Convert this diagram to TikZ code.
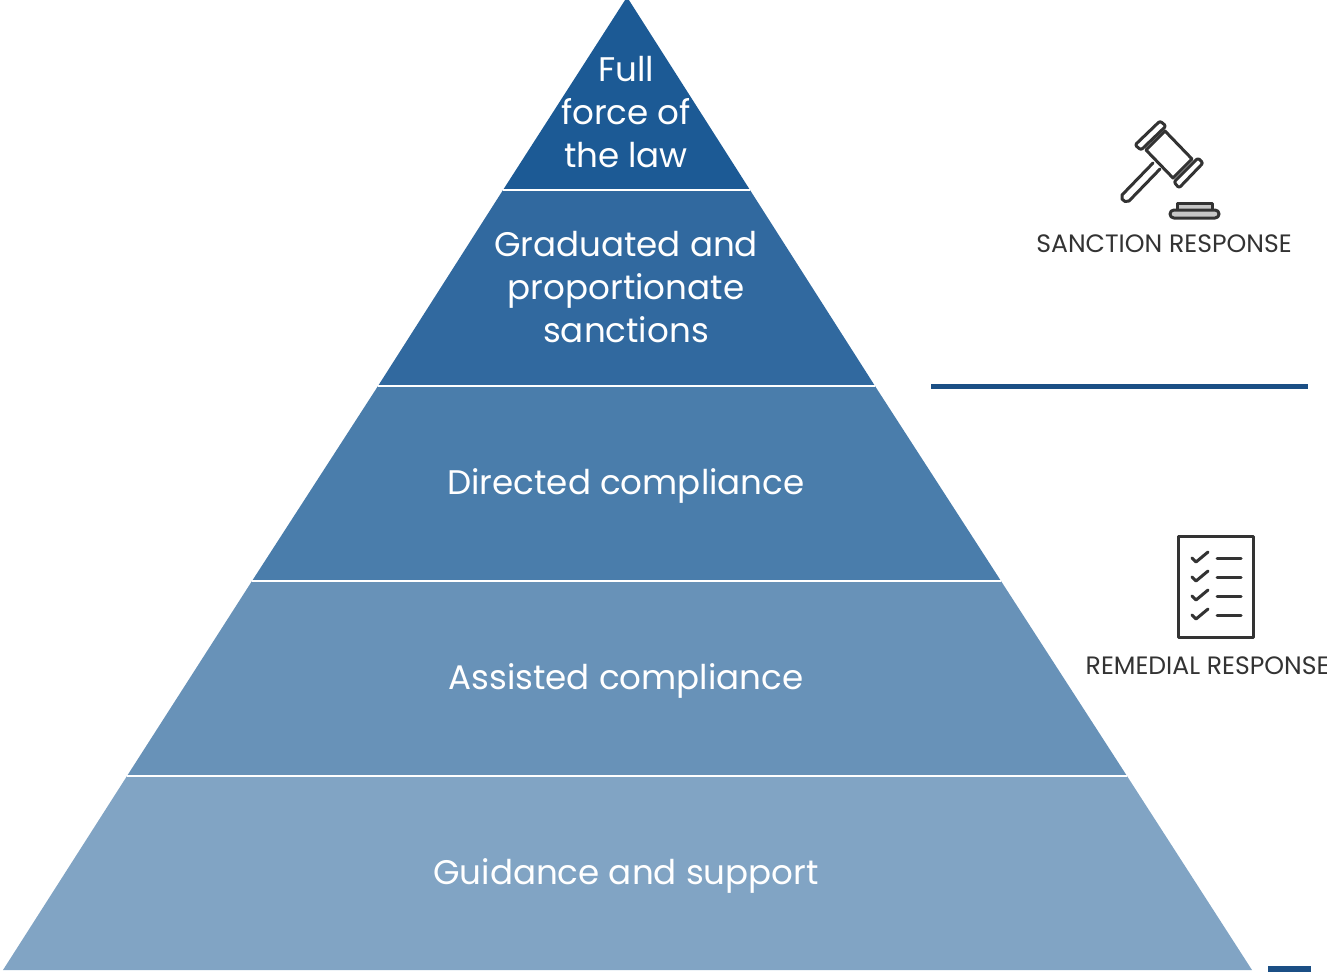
\documentclass[tikz,border=0pt]{standalone}
\usepackage{fontspec}
\setmainfont{Poppins}
\definecolor{levelone}{HTML}{1C5A95}
\definecolor{leveltwo}{HTML}{31699F}
\definecolor{levelthree}{HTML}{4A7DAB}
\definecolor{levelfour}{HTML}{6892B8}
\definecolor{levelfive}{HTML}{81A4C4}
\definecolor{rulecol}{HTML}{1B4F85}
\definecolor{iconcol}{HTML}{333333}
\tikzset{
  level/.style={white,font=\fontsize{9.7}{12.2}\selectfont,align=center,inner sep=0pt},
  response/.style={text=iconcol,font=\fontsize{7.15}{8}\selectfont,inner sep=0pt},
  icon/.style={draw=iconcol,line width=0.85pt,line join=round,line cap=round},
  divider/.style={draw=white,line width=0.7pt},
}
\begin{document}
\begin{tikzpicture}[x=0.01cm,y=-0.01cm]
  \useasboundingbox (0,0) rectangle (1327,972);
  \clip (0,0) rectangle (1327,972);
  % pyramid levels
  \fill[levelone] (627,-3) -- (750,190) -- (503,190) -- cycle;
  \fill[leveltwo] (750,190) -- (875,386) -- (378,386) -- (503,190) -- cycle;
  \fill[levelthree] (875,386) -- (1001,581) -- (252,581) -- (378,386) -- cycle;
  \fill[levelfour] (1001,581) -- (1127,776) -- (127,776) -- (252,581) -- cycle;
  \fill[levelfive] (1127,776) -- (1252,970) -- (3,970) -- (127,776) -- cycle;
  % dividers
  \draw[divider] (503,190) -- (750,190);
  \draw[divider] (378,386) -- (875,386);
  \draw[divider] (252,581) -- (1001,581);
  \draw[divider] (127,776) -- (1127,776);
  % level labels
  \node[level] (fullforce) at (626,112) {Full\\force of\\the law};
  \node[level] (graduated) at (626,287) {Graduated and\\proportionate\\sanctions};
  \node[level] (directed) at (626,486) {Directed compliance};
  \node[level] (assisted) at (626,681) {Assisted compliance};
  \node[level] (guidance) at (626,876) {Guidance and support};
  % rules on the right
  \fill[rulecol] (931,384) rectangle (1308,389);
  \fill[rulecol] (1268,966) rectangle (1311,972);
  % gavel
  \draw[icon,rounded corners=0.6pt,fill=white] (1135,145) -- (1160,121) -- (1166,126) -- (1141,150) -- cycle;
  \draw[icon,rounded corners=0.6pt,fill=white] (1174,182) -- (1198,158) -- (1203,163) -- (1179,188) -- cycle;
  \draw[icon] (1146,150) -- (1165,131) -- (1192,159) -- (1173,178) -- cycle;
  \draw[icon] (1153,163) -- (1122,195) -- (1122,199) -- (1125,201.5) -- (1129,201) -- (1160,169);
  \draw[icon,fill=black!22] (1177,210) -- (1177,203) -- (1212,203) -- (1212,210);
  \draw[icon,fill=black!22,rounded corners=1.1pt] (1170,210) rectangle (1219,218);
  \node[response] (sanction) at (1164,244) {SANCTION RESPONSE};
  % checklist
  \draw[icon] (1178,536) rectangle (1253,637);
  \draw[icon] (1192,558) -- (1196,562) -- (1208,552);
  \draw[icon] (1192,577) -- (1196,581) -- (1208,571);
  \draw[icon] (1192,596) -- (1196,600) -- (1208,590);
  \draw[icon] (1192,615) -- (1196,619) -- (1208,609);
  \draw[icon] (1217,558) -- (1241,558);
  \draw[icon] (1217,577) -- (1241,577);
  \draw[icon] (1217,596) -- (1241,596);
  \draw[icon] (1217,615) -- (1241,615);
  \node[response,anchor=west] (remedial) at (1085,666) {REMEDIAL RESPONSE};
\end{tikzpicture}
\end{document}
